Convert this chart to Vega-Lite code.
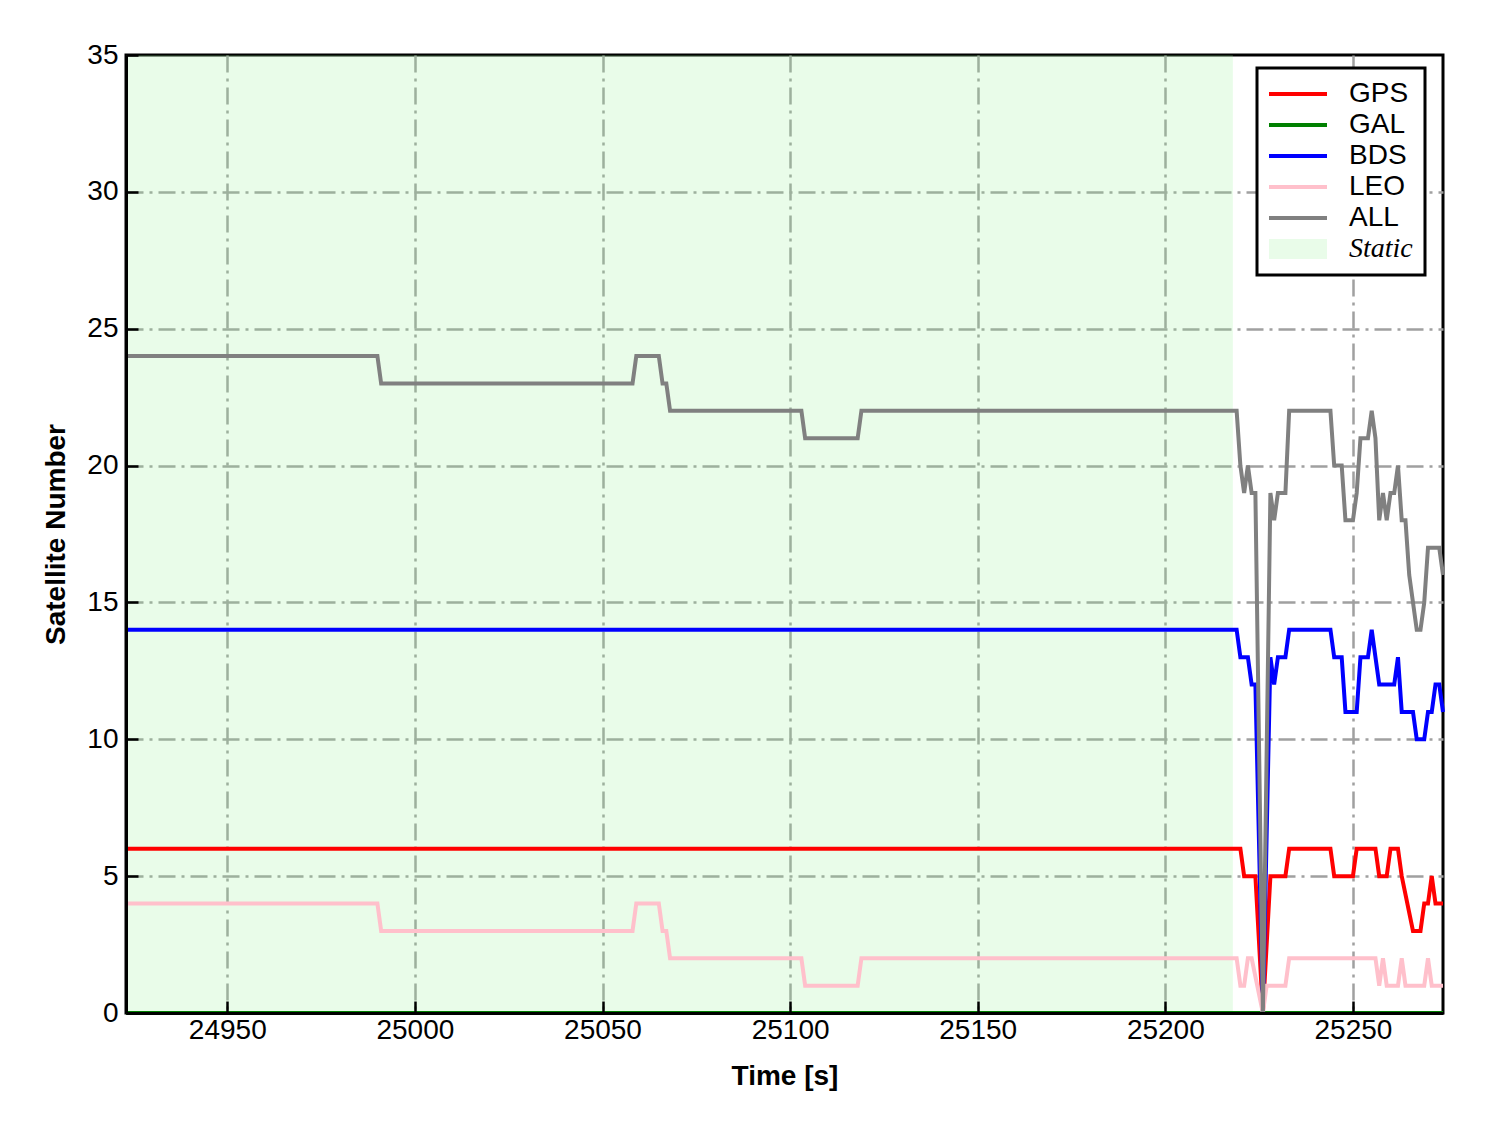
{
  "$schema": "https://vega.github.io/schema/vega-lite/v6.json",
  "width": 1317,
  "height": 958,
  "autosize": {"type": "none"},
  "padding": {"left": 126, "top": 55, "right": 45, "bottom": 120},
  "background": "white",
  "config": {
    "font": "Liberation Sans",
    "view": {"stroke": "black", "strokeWidth": 3},
    "legend": {"strokeWidth": 3}
  },
  "datasets": {
    "static": [{"start": 24923, "end": 25218, "series": "Static"}],
    "lines": [
      {"time": 24923, "series": "GPS", "count": 6}, {"time": 25220, "series": "GPS", "count": 6}, {"time": 25221, "series": "GPS", "count": 5}, {"time": 25224, "series": "GPS", "count": 5}, {"time": 25226, "series": "GPS", "count": 0}, {"time": 25228, "series": "GPS", "count": 5}, {"time": 25232, "series": "GPS", "count": 5}, {"time": 25233, "series": "GPS", "count": 6}, {"time": 25244, "series": "GPS", "count": 6}, {"time": 25245, "series": "GPS", "count": 5}, {"time": 25250, "series": "GPS", "count": 5}, {"time": 25251, "series": "GPS", "count": 6}, {"time": 25256, "series": "GPS", "count": 6}, {"time": 25257, "series": "GPS", "count": 5}, {"time": 25259, "series": "GPS", "count": 5}, {"time": 25260, "series": "GPS", "count": 6}, {"time": 25262, "series": "GPS", "count": 6}, {"time": 25263, "series": "GPS", "count": 5}, {"time": 25266, "series": "GPS", "count": 3}, {"time": 25268, "series": "GPS", "count": 3}, {"time": 25269, "series": "GPS", "count": 4}, {"time": 25270, "series": "GPS", "count": 4}, {"time": 25271, "series": "GPS", "count": 5}, {"time": 25272, "series": "GPS", "count": 4}, {"time": 25274, "series": "GPS", "count": 4},
      {"time": 24923, "series": "GAL", "count": 0}, {"time": 25274, "series": "GAL", "count": 0},
      {"time": 24923, "series": "BDS", "count": 14}, {"time": 25219, "series": "BDS", "count": 14}, {"time": 25220, "series": "BDS", "count": 13}, {"time": 25222, "series": "BDS", "count": 13}, {"time": 25223, "series": "BDS", "count": 12}, {"time": 25224, "series": "BDS", "count": 12}, {"time": 25226, "series": "BDS", "count": 0}, {"time": 25228, "series": "BDS", "count": 13}, {"time": 25229, "series": "BDS", "count": 12}, {"time": 25230, "series": "BDS", "count": 13}, {"time": 25232, "series": "BDS", "count": 13}, {"time": 25233, "series": "BDS", "count": 14}, {"time": 25244, "series": "BDS", "count": 14}, {"time": 25245, "series": "BDS", "count": 13}, {"time": 25247, "series": "BDS", "count": 13}, {"time": 25248, "series": "BDS", "count": 11}, {"time": 25251, "series": "BDS", "count": 11}, {"time": 25252, "series": "BDS", "count": 13}, {"time": 25254, "series": "BDS", "count": 13}, {"time": 25255, "series": "BDS", "count": 14}, {"time": 25256, "series": "BDS", "count": 13}, {"time": 25257, "series": "BDS", "count": 12}, {"time": 25261, "series": "BDS", "count": 12}, {"time": 25262, "series": "BDS", "count": 13}, {"time": 25263, "series": "BDS", "count": 11}, {"time": 25266, "series": "BDS", "count": 11}, {"time": 25267, "series": "BDS", "count": 10}, {"time": 25269, "series": "BDS", "count": 10}, {"time": 25270, "series": "BDS", "count": 11}, {"time": 25271, "series": "BDS", "count": 11}, {"time": 25272, "series": "BDS", "count": 12}, {"time": 25273, "series": "BDS", "count": 12}, {"time": 25274, "series": "BDS", "count": 11},
      {"time": 24923, "series": "LEO", "count": 4}, {"time": 24990, "series": "LEO", "count": 4}, {"time": 24991, "series": "LEO", "count": 3}, {"time": 25058, "series": "LEO", "count": 3}, {"time": 25059, "series": "LEO", "count": 4}, {"time": 25065, "series": "LEO", "count": 4}, {"time": 25066, "series": "LEO", "count": 3}, {"time": 25067, "series": "LEO", "count": 3}, {"time": 25068, "series": "LEO", "count": 2}, {"time": 25103, "series": "LEO", "count": 2}, {"time": 25104, "series": "LEO", "count": 1}, {"time": 25118, "series": "LEO", "count": 1}, {"time": 25119, "series": "LEO", "count": 2}, {"time": 25219, "series": "LEO", "count": 2}, {"time": 25220, "series": "LEO", "count": 1}, {"time": 25221, "series": "LEO", "count": 1}, {"time": 25222, "series": "LEO", "count": 2}, {"time": 25223, "series": "LEO", "count": 2}, {"time": 25226, "series": "LEO", "count": 0}, {"time": 25227, "series": "LEO", "count": 1}, {"time": 25232, "series": "LEO", "count": 1}, {"time": 25233, "series": "LEO", "count": 2}, {"time": 25256, "series": "LEO", "count": 2}, {"time": 25257, "series": "LEO", "count": 1}, {"time": 25258, "series": "LEO", "count": 2}, {"time": 25259, "series": "LEO", "count": 1}, {"time": 25262, "series": "LEO", "count": 1}, {"time": 25263, "series": "LEO", "count": 2}, {"time": 25264, "series": "LEO", "count": 1}, {"time": 25269, "series": "LEO", "count": 1}, {"time": 25270, "series": "LEO", "count": 2}, {"time": 25271, "series": "LEO", "count": 1}, {"time": 25274, "series": "LEO", "count": 1},
      {"time": 24923, "series": "ALL", "count": 24}, {"time": 24990, "series": "ALL", "count": 24}, {"time": 24991, "series": "ALL", "count": 23}, {"time": 25058, "series": "ALL", "count": 23}, {"time": 25059, "series": "ALL", "count": 24}, {"time": 25065, "series": "ALL", "count": 24}, {"time": 25066, "series": "ALL", "count": 23}, {"time": 25067, "series": "ALL", "count": 23}, {"time": 25068, "series": "ALL", "count": 22}, {"time": 25103, "series": "ALL", "count": 22}, {"time": 25104, "series": "ALL", "count": 21}, {"time": 25118, "series": "ALL", "count": 21}, {"time": 25119, "series": "ALL", "count": 22}, {"time": 25219, "series": "ALL", "count": 22}, {"time": 25220, "series": "ALL", "count": 20}, {"time": 25221, "series": "ALL", "count": 19}, {"time": 25222, "series": "ALL", "count": 20}, {"time": 25223, "series": "ALL", "count": 19}, {"time": 25224, "series": "ALL", "count": 19}, {"time": 25226, "series": "ALL", "count": 0}, {"time": 25228, "series": "ALL", "count": 19}, {"time": 25229, "series": "ALL", "count": 18}, {"time": 25230, "series": "ALL", "count": 19}, {"time": 25232, "series": "ALL", "count": 19}, {"time": 25233, "series": "ALL", "count": 22}, {"time": 25244, "series": "ALL", "count": 22}, {"time": 25245, "series": "ALL", "count": 20}, {"time": 25247, "series": "ALL", "count": 20}, {"time": 25248, "series": "ALL", "count": 18}, {"time": 25250, "series": "ALL", "count": 18}, {"time": 25251, "series": "ALL", "count": 19}, {"time": 25252, "series": "ALL", "count": 21}, {"time": 25254, "series": "ALL", "count": 21}, {"time": 25255, "series": "ALL", "count": 22}, {"time": 25256, "series": "ALL", "count": 21}, {"time": 25257, "series": "ALL", "count": 18}, {"time": 25258, "series": "ALL", "count": 19}, {"time": 25259, "series": "ALL", "count": 18}, {"time": 25260, "series": "ALL", "count": 19}, {"time": 25261, "series": "ALL", "count": 19}, {"time": 25262, "series": "ALL", "count": 20}, {"time": 25263, "series": "ALL", "count": 18}, {"time": 25264, "series": "ALL", "count": 18}, {"time": 25265, "series": "ALL", "count": 16}, {"time": 25267, "series": "ALL", "count": 14}, {"time": 25268, "series": "ALL", "count": 14}, {"time": 25269, "series": "ALL", "count": 15}, {"time": 25270, "series": "ALL", "count": 17}, {"time": 25273, "series": "ALL", "count": 17}, {"time": 25274, "series": "ALL", "count": 16}
    ]
  },
  "resolve": {"axis": {"x": "independent", "y": "independent"}},
  "layer": [
    {
      "data": {"name": "static"},
      "mark": {"type": "rect"},
      "encoding": {
        "x": {"field": "start", "type": "quantitative",
          "scale": {"domain": [24923, 25274], "nice": false, "zero": false},
          "axis": {"orient": "bottom", "grid": true, "gridColor": "#a0a0a0", "gridWidth": 2.5, "gridDash": [17, 6, 3, 6], "gridOpacity": 1,
            "values": [24950, 25000, 25050, 25100, 25150, 25200, 25250], "domain": false, "ticks": false, "labels": false, "title": null, "zindex": 0}},
        "x2": {"field": "end"},
        "y": {"datum": 0, "type": "quantitative",
          "scale": {"domain": [0, 35], "nice": false, "zero": true},
          "axis": {"orient": "left", "grid": true, "gridColor": "#a0a0a0", "gridWidth": 2.5, "gridDash": [17, 6, 3, 6], "gridOpacity": 1,
            "values": [5, 10, 15, 20, 25, 30], "domain": false, "ticks": false, "labels": false, "title": null, "zindex": 0}},
        "y2": {"datum": 35},
        "color": {"field": "series", "type": "nominal",
          "scale": {"domain": ["GPS", "GAL", "BDS", "LEO", "ALL", "Static"], "range": ["#ff0000", "#008000", "#0000ff", "#ffc0cb", "#808080", "rgba(144,238,144,0.2)"]},
          "legend": {"title": null, "orient": "none", "legendX": 1131, "legendY": 13,
            "symbolType": "stroke", "symbolSize": 3600, "symbolOpacity": 1, "symbolOffset": 14,
            "symbolStrokeWidth": {"expr": "datum.label === 'Static' ? 20 : 4"},
            "labelFont": {"expr": "datum.label === 'Static' ? 'Liberation Serif' : 'Liberation Sans'"},
            "labelFontStyle": {"expr": "datum.label === 'Static' ? 'italic' : 'normal'"},
            "labelFontSize": 28, "labelColor": "black", "labelOffset": 38, "rowPadding": 3, "padding": 12, "clipHeight": 28,
            "strokeColor": "black", "fillColor": "white"}}
      }
    },
    {
      "data": {"name": "lines"},
      "mark": {"type": "line", "strokeWidth": 4, "interpolate": "linear"},
      "encoding": {
        "x": {"field": "time", "type": "quantitative",
          "axis": {"orient": "bottom", "grid": false, "values": [24950, 25000, 25050, 25100, 25150, 25200, 25250], "format": "d",
            "domain": true, "domainColor": "black", "domainWidth": 3, "ticks": false,
            "labelFontSize": 28, "labelColor": "black", "labelPadding": 3, "labelFont": "Liberation Sans",
            "title": "Time [s]", "titleFont": "Liberation Sans", "titleFontSize": 28, "titleFontWeight": "bold", "titleColor": "black", "titlePadding": 18, "zindex": 1}},
        "y": {"field": "count", "type": "quantitative",
          "axis": {"orient": "left", "grid": false, "values": [0, 5, 10, 15, 20, 25, 30, 35], "format": "d",
            "domain": true, "domainColor": "black", "domainWidth": 3, "ticks": false,
            "labelFontSize": 28, "labelColor": "black", "labelPadding": 8, "labelFont": "Liberation Sans",
            "title": "Satellite Number", "titleFont": "Liberation Sans", "titleFontSize": 28, "titleFontWeight": "bold", "titleColor": "black", "titlePadding": 16, "zindex": 1}},
        "color": {"field": "series", "type": "nominal",
          "legend": {"title": null, "orient": "none", "legendX": 1131, "legendY": 13,
            "symbolType": "stroke", "symbolSize": 3600, "symbolOpacity": 1, "symbolOffset": 14,
            "symbolStrokeWidth": {"expr": "datum.label === 'Static' ? 20 : 4"},
            "labelFont": {"expr": "datum.label === 'Static' ? 'Liberation Serif' : 'Liberation Sans'"},
            "labelFontStyle": {"expr": "datum.label === 'Static' ? 'italic' : 'normal'"},
            "labelFontSize": 28, "labelColor": "black", "labelOffset": 38, "rowPadding": 3, "padding": 12, "clipHeight": 28,
            "strokeColor": "black", "fillColor": "white"}}
      }
    },
    {
      "data": {"name": "lines"},
      "mark": {"type": "line", "opacity": 0, "strokeOpacity": 0},
      "encoding": {
        "x": {"field": "time", "type": "quantitative",
          "axis": {"orient": "top", "offset": -958, "grid": false, "domain": false, "labels": false, "title": null,
            "values": [24950, 25000, 25050, 25100, 25150, 25200, 25250],
            "ticks": true, "tickSize": 12, "tickColor": "black", "tickWidth": 2.5, "zindex": 1}},
        "y": {"field": "count", "type": "quantitative",
          "axis": {"orient": "right", "offset": -1317, "grid": false, "domain": false, "labels": false, "title": null,
            "values": [0, 5, 10, 15, 20, 25, 30, 35],
            "ticks": true, "tickSize": 12, "tickColor": "black", "tickWidth": 2.5, "zindex": 1}},
        "detail": {"field": "series", "type": "nominal"}
      }
    }
  ]
}
